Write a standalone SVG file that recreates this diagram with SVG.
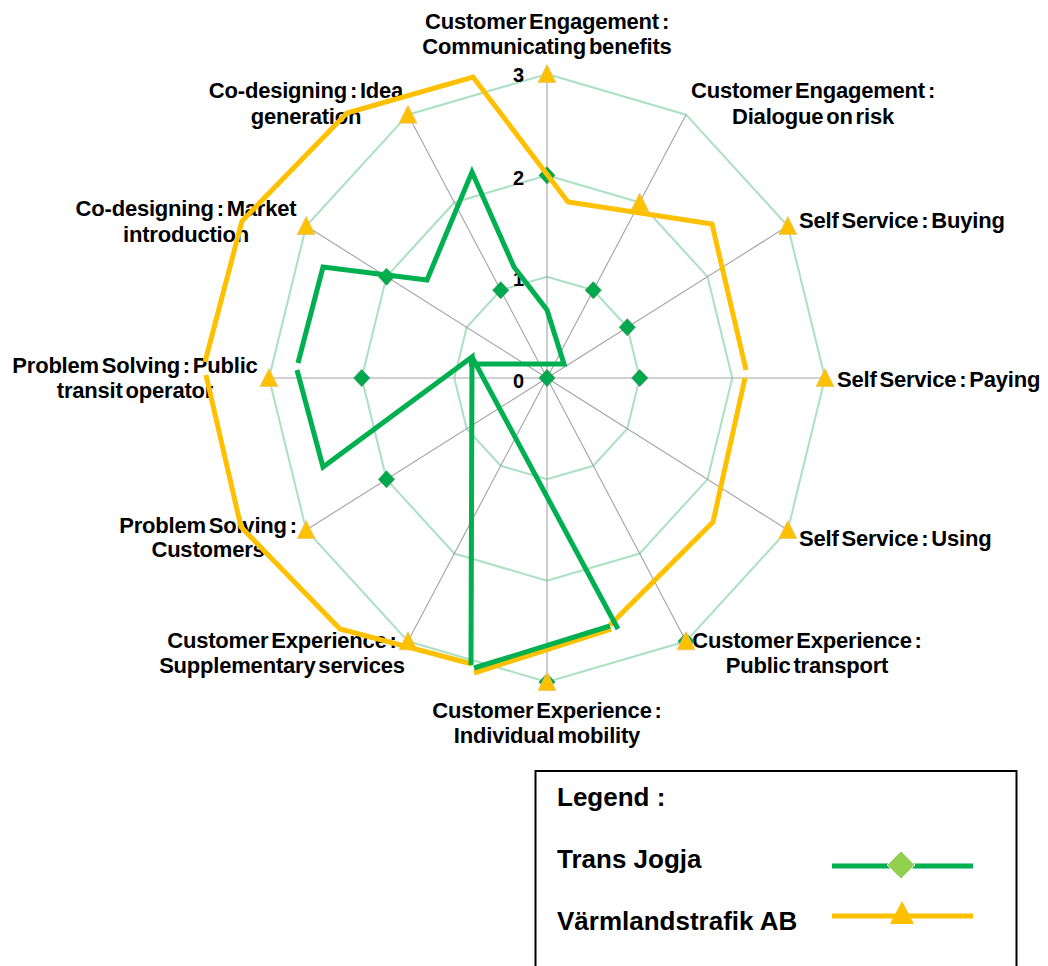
<svg xmlns="http://www.w3.org/2000/svg" width="1048" height="966" viewBox="0 0 1048 966">
<style>
.grid{fill:none;stroke:#abe0c3;stroke-width:2}
.axis{stroke:#a3a3a3;stroke-width:1.1}
.lbl{font-family:"Liberation Sans",Arial,sans-serif;font-weight:bold;font-size:22px;letter-spacing:-0.2px;word-spacing:-3px;fill:#000}
.num{font-family:"Liberation Sans",Arial,sans-serif;font-weight:bold;font-size:20px;fill:#000;text-anchor:end}
.leg{font-family:"Liberation Sans",Arial,sans-serif;font-weight:bold;font-size:26px;fill:#000}
.mid{text-anchor:middle}
.green{fill:none;stroke:#00b050;stroke-width:5;stroke-linejoin:miter}
.yellow{fill:none;stroke:#ffc000;stroke-width:5;stroke-linejoin:miter}
</style>
<defs>
<path id="dia" d="M0,-8.5 L8,0 L0,8.5 L-8,0 Z" fill="#00a94f" stroke="#2f9a48" stroke-width="0.8"/>
<path id="tri" d="M0,-9.5 L9,8.5 L-9,8.5 Z" fill="#ffc000" stroke="#e9c870" stroke-width="0.8"/>
</defs>
<rect width="1048" height="966" fill="#fff"/>
<g id="grid">
<polygon class="grid" points="547,276.7 593.3,290.2 627.3,327.3 639.7,378 627.3,428.7 593.3,465.8 547,479.3 500.7,465.8 466.7,428.7 454.3,378 466.7,327.3 500.7,290.2"/>
<polygon class="grid" points="547,175.3 639.7,202.5 707.5,276.7 732.3,378 707.5,479.3 639.7,553.5 547,580.7 454.3,553.5 386.5,479.3 361.7,378 386.5,276.7 454.3,202.5"/>
<polygon class="grid" points="547,74 686,114.7 787.8,226 825,378 787.8,530 686,641.3 547,682 408,641.3 306.2,530 269,378 306.2,226 408,114.7"/>
</g>
<g id="axes">
<line class="axis" x1="547" y1="378" x2="547" y2="74"/>
<line class="axis" x1="547" y1="378" x2="686" y2="114.7"/>
<line class="axis" x1="547" y1="378" x2="787.8" y2="226"/>
<line class="axis" x1="547" y1="378" x2="825" y2="378"/>
<line class="axis" x1="547" y1="378" x2="787.8" y2="530"/>
<line class="axis" x1="547" y1="378" x2="686" y2="641.3"/>
<line class="axis" x1="547" y1="378" x2="547" y2="682"/>
<line class="axis" x1="547" y1="378" x2="408" y2="641.3"/>
<line class="axis" x1="547" y1="378" x2="306.2" y2="530"/>
<line class="axis" x1="547" y1="378" x2="269" y2="378"/>
<line class="axis" x1="547" y1="378" x2="306.2" y2="226"/>
<line class="axis" x1="547" y1="378" x2="408" y2="114.7"/>
</g>
<g id="scale">
<text class="num" x="524" y="82">3</text>
<text class="num" x="524" y="185">2</text>
<text class="num" x="524" y="286">1</text>
<text class="num" x="524" y="388">0</text>
</g>
<g id="labels">
<g id="lbl-ce-benefits"><text class="lbl mid" x="547" y="29">Customer Engagement :</text><text class="lbl mid" x="547" y="54">Communicating benefits</text></g>
<g id="lbl-ce-risk"><text class="lbl mid" x="813" y="98">Customer Engagement :</text><text class="lbl mid" x="813" y="124">Dialogue on risk</text></g>
<g id="lbl-ss-buying"><text class="lbl" x="799" y="228">Self Service : Buying</text></g>
<g id="lbl-ss-paying"><text class="lbl" x="837" y="387">Self Service : Paying</text></g>
<g id="lbl-ss-using"><text class="lbl" x="799" y="546">Self Service : Using</text></g>
<g id="lbl-cx-public"><text class="lbl mid" x="807" y="648">Customer Experience :</text><text class="lbl mid" x="807" y="673">Public transport</text></g>
<g id="lbl-cx-individual"><text class="lbl mid" x="547" y="718">Customer Experience :</text><text class="lbl mid" x="547" y="743">Individual mobility</text></g>
<g id="lbl-cx-supp"><text class="lbl mid" x="282" y="648">Customer Experience :</text><text class="lbl mid" x="282" y="673">Supplementary services</text></g>
<g id="lbl-ps-customers"><text class="lbl mid" x="208" y="533">Problem Solving :</text><text class="lbl mid" x="208" y="557">Customers</text></g>
<g id="lbl-ps-operator"><text class="lbl mid" x="135" y="373">Problem Solving : Public</text><text class="lbl mid" x="135" y="398">transit operator</text></g>
<g id="lbl-cd-market"><text class="lbl mid" x="186" y="216">Co-designing : Market</text><text class="lbl mid" x="186" y="242">introduction</text></g>
<g id="lbl-cd-idea"><text class="lbl mid" x="306" y="98">Co-designing : Idea</text><text class="lbl mid" x="306" y="124">generation</text></g>
</g>
<g id="markers-trans-jogja">
<use href="#dia" x="547" y="175.3"/>
<use href="#dia" x="593.3" y="290.2"/>
<use href="#dia" x="627.3" y="327.3"/>
<use href="#dia" x="639.7" y="378"/>
<use href="#dia" x="547" y="378"/>
<use href="#dia" x="686" y="641.3"/>
<use href="#dia" x="547" y="682"/>
<use href="#dia" x="386.5" y="479.3"/>
<use href="#dia" x="361.7" y="378"/>
<use href="#dia" x="386.5" y="276.7"/>
<use href="#dia" x="500.7" y="290.2"/>
</g>
<g id="markers-varmlandstrafik">
<use href="#tri" x="547" y="74"/>
<use href="#tri" x="639.7" y="202.5"/>
<use href="#tri" x="787.8" y="226"/>
<use href="#tri" x="825" y="378"/>
<use href="#tri" x="787.8" y="530"/>
<use href="#tri" x="686" y="641.3"/>
<use href="#tri" x="547" y="682"/>
<use href="#tri" x="408" y="641.3"/>
<use href="#tri" x="306.2" y="530"/>
<use href="#tri" x="269" y="378"/>
<use href="#tri" x="306.2" y="226"/>
<use href="#tri" x="408" y="114.7"/>
</g>
<g id="connectors">
<g id="line-varmlandstrafik">
<polyline class="yellow" points="205,362 242,221 347,113 473,77 568,202 712,224 746,370"/>
<polyline class="yellow" points="745,378 713,522 610,625"/>
<polyline class="yellow" points="611,629 474,673"/>
<polyline class="yellow" points="472,664 340,629 241,527 206,375"/>
</g>
<g id="line-trans-jogja">
<polyline class="green" points="298,363 323,267 427,280 472,172 514,267 547,310 564,364 469,364"/>
<polyline class="green" points="297,370 323,467 472,357 471,665"/>
<line class="green" x1="472" y1="357" x2="618" y2="629"/>
<line class="green" x1="610" y1="626" x2="474" y2="668"/>
</g>
</g>
<g id="legend">
<rect x="535.5" y="771" width="481" height="220" fill="none" stroke="#000" stroke-width="2"/>
<text class="leg" x="557" y="806">Legend :</text>
<text class="leg" x="557" y="868">Trans Jogja</text>
<text class="leg" x="557" y="930">Värmlandstrafik AB</text>
<line x1="832" y1="866" x2="973" y2="866" stroke="#00b050" stroke-width="5"/>
<path d="M901,851 L915,865 L901,879 L887,865 Z" fill="#92d050" stroke="#fff" stroke-width="1"/>
<line x1="832" y1="916" x2="973" y2="916" stroke="#ffc000" stroke-width="5"/>
<path d="M902,901 L914,924 L890,924 Z" fill="#ffc000"/>
</g>
</svg>
